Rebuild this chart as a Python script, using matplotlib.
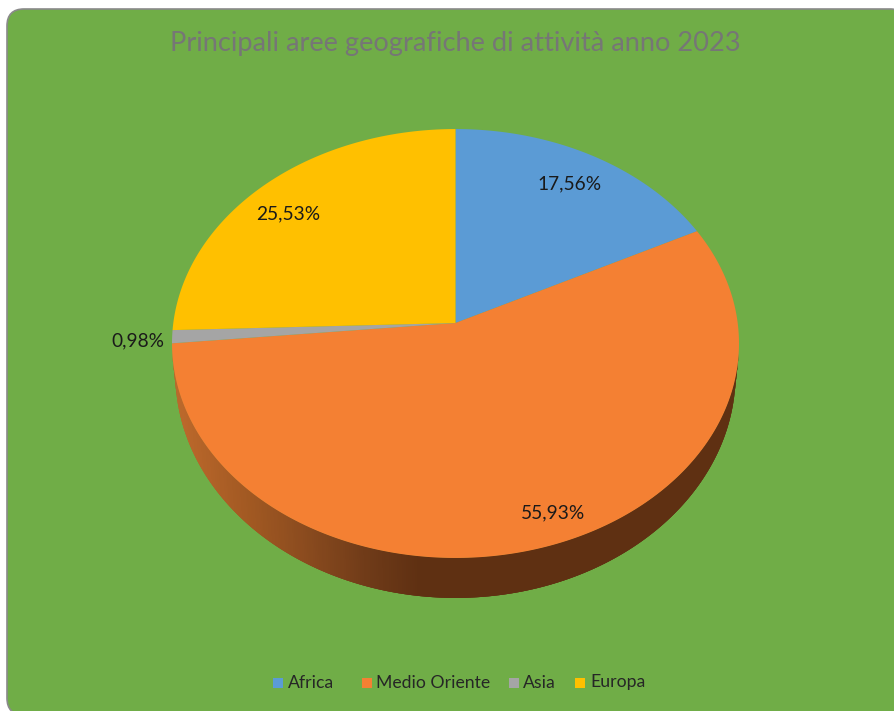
import numpy as np
import matplotlib
matplotlib.use("Agg")
import matplotlib.pyplot as plt
from matplotlib.patches import FancyBboxPatch, Rectangle
from matplotlib.colors import LinearSegmentedColormap

categories = ["Africa", "Medio Oriente", "Asia", "Europa"]
shares = [17.56, 55.93, 0.98, 25.53]
share_labels = ["17,56%", "55,93%", "0,98%", "25,53%"]
colors = ["#5B9BD5", "#F48033", "#A5A5A5", "#FFC000"]
title = "Principali aree geografiche di attività anno 2023"

W, H = 895, 711
CX, CY = 455.5, 323.0
RX, RY, TILT = 282.2, 212.5, 0.0956
RIM_CY = 343.5          # centre of the projected rim ellipse
BASE_CY = 374.0         # centre of the projected base ellipse
BASE_SX, BASE_SY = 0.988, 1.044
BG = "#70AD47"

fig = plt.figure(figsize=(W / 100, H / 100), dpi=100, facecolor="white")
ax = fig.add_axes([0, 0, 1, 1])
ax.set_xlim(0, W)
ax.set_ylim(H, 0)
ax.axis("off")
plt.rcParams["font.family"] = ["Lato", "DejaVu Sans"]


def project(theta):
    """Perspective view of the unit disc; theta runs clockwise from 12 o'clock."""
    x, y = np.sin(theta), np.cos(theta)
    w = 1 + TILT * y
    return CX + RX * x / w, CY - RY * y / w


def base_of(px, py):
    """Point of the lower edge of the wall below a rim point."""
    return CX + (px - CX) * BASE_SX, BASE_CY + (py - RIM_CY) * BASE_SY


# chart area
ax.add_patch(FancyBboxPatch((7, 9), 900, 706, boxstyle="round,pad=0,rounding_size=17",
                            fc=BG, ec="#8A8A8A", lw=1.2, zorder=0))

# side wall, shaded strip by strip from left to right; strips overlap the next one
wall = LinearSegmentedColormap.from_list(
    "wall", [(0, "#BE6A2C"), (0.14, "#A05822"), (0.226, "#8C4C1F"),
             (0.35, "#6E3A18"), (0.437, "#5F3012"), (1, "#5F3012")])
angles = np.cumsum([0] + shares) / 100 * 2 * np.pi
rim = np.linspace(angles[1], angles[2], 500)
rx, ry = project(rim)
bx, by = base_of(rx, ry)
lo, hi = rx.min(), rx.max()
for i in range(len(rim) - 3):
    if min(ry[i], ry[i + 3]) < RIM_CY + 8:
        continue
    t = ((rx[i] + rx[i + 1]) / 2 - lo) / (hi - lo)
    ax.fill([rx[i], rx[i + 3], bx[i + 3], bx[i]], [ry[i], ry[i + 3], by[i + 3], by[i]],
            color=wall(t), lw=0, zorder=1)

# top face
for start, end, color in zip(angles[:-1], angles[1:], colors):
    t = np.linspace(start, end, 300)
    px, py = project(t)
    ax.fill(np.r_[CX, px], np.r_[CY, py], color=color, lw=0, zorder=2)

# percentage labels
label_positions = [(569.5, 184), (553.5, 513), (137.5, 340.5), (288.5, 214)]
for (lx, ly), text in zip(label_positions, share_labels):
    ax.text(lx, ly, text, ha="center", va="center", fontsize=13.8, color="#1A1A1A", zorder=3)

ax.text(455, 51, title, ha="center", va="baseline", fontsize=19.6, color="#767676", zorder=3)

# legend
swatch_x = [273, 362, 509, 575]
text_x = [288, 376, 523, 590]
for sx, tx, name, color in zip(swatch_x, text_x, categories, colors):
    ax.add_patch(Rectangle((sx, 678), 10, 10, fc=color, ec="none", zorder=3))
    ax.text(tx, 687.5, name, ha="left", va="baseline", fontsize=12.7, color="#262626", zorder=3)

fig.savefig("out.png", dpi=100, facecolor="white")
